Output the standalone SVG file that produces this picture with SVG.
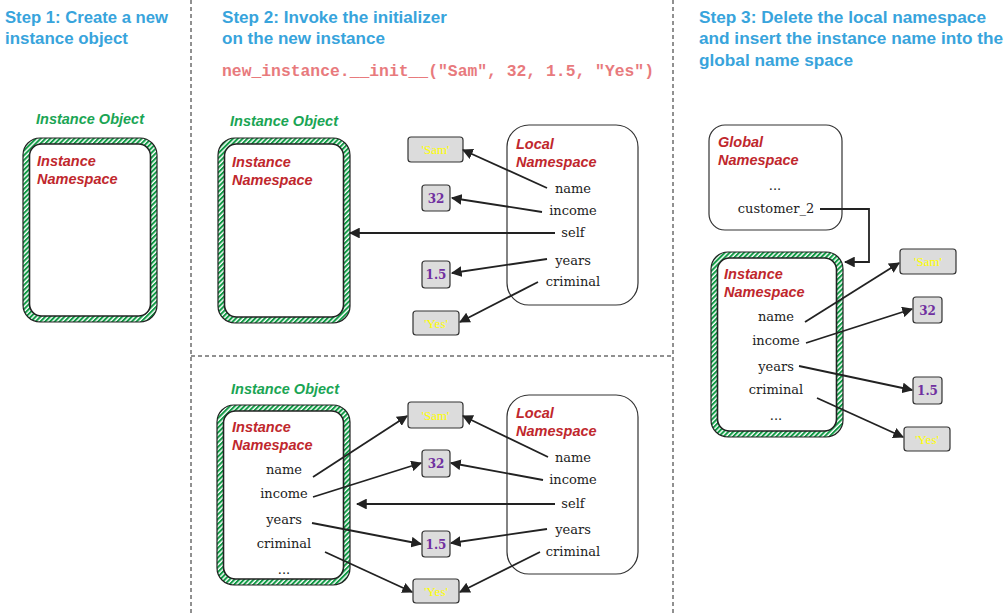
<svg xmlns="http://www.w3.org/2000/svg" width="1007" height="614" viewBox="0 0 1007 614">
<style>
.title{font-family:"Liberation Sans",Arial,sans-serif;font-weight:bold;font-size:17px;fill:#38a4dc}
.code{font-family:"Liberation Mono","Courier New",monospace;font-weight:bold;font-size:16px;fill:#e87a7d}
.obj{font-family:"Liberation Sans",Arial,sans-serif;font-weight:bold;font-style:italic;font-size:14.5px;fill:#1aa554}
.ns{font-family:"Liberation Sans",Arial,sans-serif;font-weight:bold;font-style:italic;font-size:14.5px;fill:#c0272d}
.nm{font-family:"DejaVu Serif","Liberation Serif",serif;font-size:13px;fill:#222;text-anchor:middle}
.val{fill:#dcdcdc;stroke:#333;stroke-width:1.2}
.vs{font-family:"Liberation Serif","DejaVu Serif",serif;font-size:13px;fill:#ffff00;text-anchor:middle}
.vn{font-family:"DejaVu Serif","Liberation Serif",serif;font-weight:bold;font-size:12px;fill:#7030a0;text-anchor:middle}
.loc{fill:#fff;stroke:#333;stroke-width:1.2}
.hout{fill:url(#hatch);stroke:#222;stroke-width:1.2}
.hin{fill:#fff;stroke:#222;stroke-width:1.6}
.dash{stroke:#222;stroke-width:1;stroke-dasharray:4,3;fill:none}
.arr{stroke:#222;stroke-width:1.8;fill:none;marker-end:url(#ah)}
</style>
<defs>
<pattern id="hatch" width="3.4" height="3.4" patternUnits="userSpaceOnUse" patternTransform="rotate(45)">
<rect width="3.4" height="3.4" fill="#fff"/>
<rect width="2" height="3.4" fill="#0f9a44"/>
</pattern>
<marker id="ah" viewBox="0 0 10 10" refX="9" refY="5" markerWidth="6" markerHeight="6" orient="auto" markerUnits="strokeWidth">
<path d="M0,0 L10,5 L0,10 z" fill="#222"/>
</marker>
</defs>
<rect width="1007" height="614" fill="#fff"/>

<g id="separators">
<line class="dash" x1="191" y1="0" x2="191" y2="614"/>
<line class="dash" x1="673" y1="0" x2="673" y2="614"/>
<line class="dash" x1="191" y1="356" x2="673" y2="356"/>
</g>

<g id="titles">
<text class="title" x="5" y="23" textLength="163" lengthAdjust="spacingAndGlyphs">Step 1: Create a new</text>
<text class="title" x="5" y="44" textLength="123" lengthAdjust="spacingAndGlyphs">instance object</text>
<text class="title" x="222" y="23" textLength="225" lengthAdjust="spacingAndGlyphs">Step 2: Invoke the initializer</text>
<text class="title" x="222" y="44" textLength="163" lengthAdjust="spacingAndGlyphs">on the new instance</text>
<text class="code" x="222" y="76" textLength="432" lengthAdjust="spacingAndGlyphs">new_instance.__init__("Sam", 32, 1.5, "Yes")</text>
<text class="title" x="699" y="23" textLength="287" lengthAdjust="spacingAndGlyphs">Step 3: Delete the local namespace</text>
<text class="title" x="699" y="44" textLength="304" lengthAdjust="spacingAndGlyphs">and insert the instance name into the</text>
<text class="title" x="699" y="66" textLength="154" lengthAdjust="spacingAndGlyphs">global name space</text>
</g>

<!-- Step 1 -->
<g id="s1-instance">
<text class="obj" x="36" y="124">Instance Object</text>
<rect class="hout" x="23" y="138" width="134" height="184" rx="17"/>
<rect class="hin" x="29.5" y="144" width="121" height="172" rx="12"/>
<text class="ns" x="37" y="166">Instance</text>
<text class="ns" x="37" y="184">Namespace</text>
</g>

<!-- Step 2 top -->
<g id="s2a-instance">
<text class="obj" x="230" y="126">Instance Object</text>
<rect class="hout" x="218" y="138" width="132" height="185" rx="17"/>
<rect class="hin" x="224.5" y="144" width="119" height="173" rx="12"/>
<text class="ns" x="232" y="167">Instance</text>
<text class="ns" x="232" y="185">Namespace</text>
</g>
<g id="s2a-local">
<rect class="loc" x="507" y="125" width="131" height="180" rx="22"/>
<text class="ns" x="516" y="149">Local</text>
<text class="ns" x="516" y="167">Namespace</text>
<text class="nm" x="573" y="193">name</text>
<text class="nm" x="573" y="215">income</text>
<text class="nm" x="573" y="237">self</text>
<text class="nm" x="573" y="265">years</text>
<text class="nm" x="573" y="286">criminal</text>
</g>
<g id="s2a-sam"><rect class="val" x="408" y="137" width="55" height="25" rx="3"/><text class="vs" x="435.5" y="154">'Sam'</text></g>
<g id="s2a-32"><rect class="val" x="422" y="185" width="28" height="26" rx="3"/><text class="vn" x="436" y="202.5">32</text></g>
<g id="s2a-15"><rect class="val" x="422" y="261" width="28" height="27" rx="3"/><text class="vn" x="436" y="279">1.5</text></g>
<g id="s2a-yes"><rect class="val" x="413" y="311" width="46" height="24" rx="3"/><text class="vs" x="436" y="328">'Yes'</text></g>

<!-- Step 2 bottom -->
<g id="s2b-instance">
<text class="obj" x="231" y="394">Instance Object</text>
<rect class="hout" x="217" y="405" width="133" height="180" rx="17"/>
<rect class="hin" x="223.5" y="411" width="120" height="168" rx="12"/>
<text class="ns" x="232" y="432">Instance</text>
<text class="ns" x="232" y="450">Namespace</text>
<text class="nm" x="284" y="474">name</text>
<text class="nm" x="284" y="498">income</text>
<text class="nm" x="284" y="524">years</text>
<text class="nm" x="284" y="548">criminal</text>
<text class="nm" x="284" y="574">...</text>
</g>
<g id="s2b-local">
<rect class="loc" x="507" y="395" width="131" height="179" rx="22"/>
<text class="ns" x="516" y="418">Local</text>
<text class="ns" x="516" y="436">Namespace</text>
<text class="nm" x="573" y="462">name</text>
<text class="nm" x="573" y="484">income</text>
<text class="nm" x="573" y="508">self</text>
<text class="nm" x="573" y="534">years</text>
<text class="nm" x="573" y="556">criminal</text>
</g>
<g id="s2b-sam"><rect class="val" x="408" y="402" width="55" height="26" rx="3"/><text class="vs" x="435.5" y="420">'Sam'</text></g>
<g id="s2b-32"><rect class="val" x="422" y="450" width="28" height="27" rx="3"/><text class="vn" x="436" y="468">32</text></g>
<g id="s2b-15"><rect class="val" x="422" y="531" width="28" height="26" rx="3"/><text class="vn" x="436" y="548.5">1.5</text></g>
<g id="s2b-yes"><rect class="val" x="413" y="579" width="46" height="24" rx="3"/><text class="vs" x="436" y="596">'Yes'</text></g>

<!-- Step 3 -->
<g id="s3-global">
<rect class="loc" x="709" y="125" width="133" height="105" rx="16"/>
<text class="ns" x="718" y="147">Global</text>
<text class="ns" x="718" y="165">Namespace</text>
<text class="nm" x="775" y="190">...</text>
<text class="nm" x="776" y="213">customer_2</text>
</g>
<g id="s3-instance">
<rect class="hout" x="711" y="252" width="132" height="185" rx="17"/>
<rect class="hin" x="717.5" y="258" width="119" height="173" rx="12"/>
<text class="ns" x="724" y="279">Instance</text>
<text class="ns" x="724" y="297">Namespace</text>
<text class="nm" x="776" y="321">name</text>
<text class="nm" x="776" y="345">income</text>
<text class="nm" x="776" y="371">years</text>
<text class="nm" x="776" y="394">criminal</text>
<text class="nm" x="776" y="420">...</text>
</g>
<g id="s3-sam"><rect class="val" x="900" y="249" width="56" height="25" rx="3"/><text class="vs" x="928" y="266">'Sam'</text></g>
<g id="s3-32"><rect class="val" x="913" y="297" width="29" height="26" rx="3"/><text class="vn" x="927.5" y="314.5">32</text></g>
<g id="s3-15"><rect class="val" x="913" y="377" width="29" height="27" rx="3"/><text class="vn" x="927.5" y="395">1.5</text></g>
<g id="s3-yes"><rect class="val" x="904" y="427" width="46" height="24" rx="3"/><text class="vs" x="927" y="444">'Yes'</text></g>

<g id="connectors">
<!-- step 2 top -->
<line class="arr" x1="547" y1="188" x2="463" y2="150"/>
<line class="arr" x1="542" y1="212" x2="452" y2="198"/>
<line class="arr" x1="555" y1="233" x2="350" y2="233"/>
<line class="arr" x1="547" y1="259" x2="452" y2="273"/>
<line class="arr" x1="538" y1="282" x2="460" y2="322"/>
<!-- step 2 bottom -->
<line class="arr" x1="313" y1="477" x2="407" y2="416"/>
<line class="arr" x1="313" y1="497" x2="421" y2="463"/>
<line class="arr" x1="312" y1="523" x2="421" y2="544"/>
<line class="arr" x1="325" y1="552" x2="412" y2="592"/>
<line class="arr" x1="548" y1="457" x2="463" y2="416"/>
<line class="arr" x1="543" y1="480" x2="451" y2="463"/>
<line class="arr" x1="555" y1="504" x2="357" y2="504"/>
<line class="arr" x1="547" y1="529" x2="451" y2="543"/>
<line class="arr" x1="540" y1="552" x2="460" y2="592"/>
<!-- step 3 -->
<polyline class="arr" points="820,209 869,209 869,262 845,262"/>
<line class="arr" x1="805" y1="322" x2="899" y2="263"/>
<line class="arr" x1="806" y1="343" x2="912" y2="309"/>
<line class="arr" x1="799" y1="366" x2="912" y2="390"/>
<line class="arr" x1="817" y1="398" x2="903" y2="437"/>
</g>
</svg>
